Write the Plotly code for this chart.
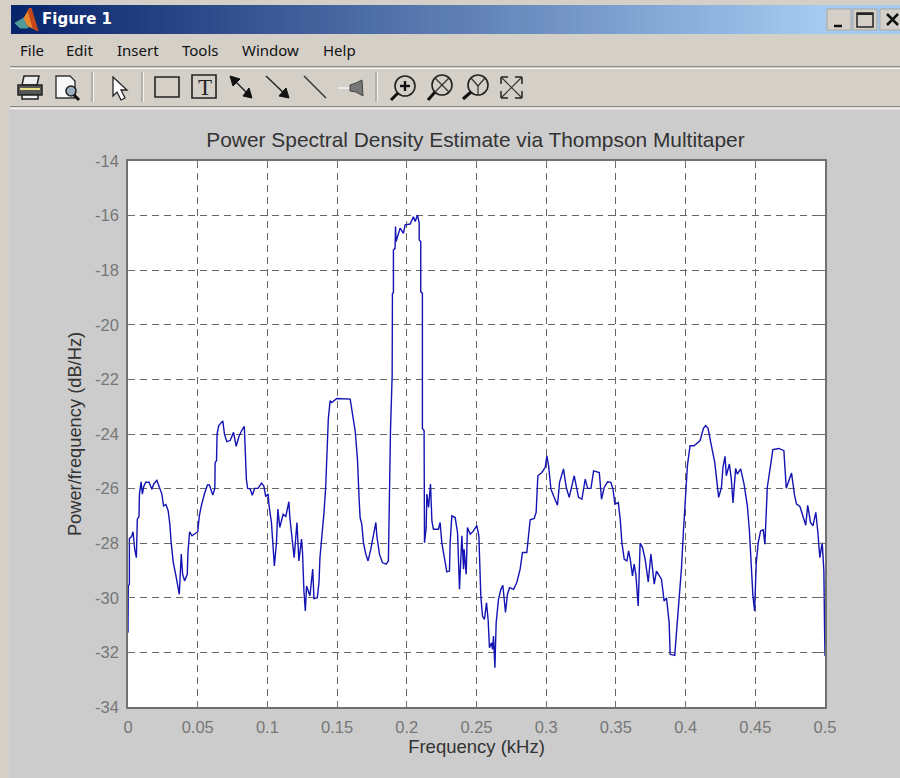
import plotly.graph_objects as go

# ---------- chart data ----------
freq_khz = [0,.0002,.001,.001,.0026,.0036,.0048,.006,.0067,.0079,.0082,.0094,.0103,.0113,.0127,.0151,.0171,.0185,.0207,.0228,.0243,.0255,.0272,.0288,.03,.031,.0325,.0344,.0368,.0382,.0392,.0406,.0425,.043,.0442,.0459,.05,.0512,.0526,.0548,.057,.0584,.0608,.0623,.0625,.0635,.0639,.0651,.068,.0692,.0709,.0733,.0757,.0776,.0796,.0815,.0834,.0839,.0849,.0858,.0877,.0892,.0909,.0933,.0957,.0974,.0988,.1005,.1012,.1029,.1036,.105,.1065,.1075,.1089,.1113,.1132,.1154,.1161,.1178,.1192,.1212,.1226,.1245,.1252,.1262,.1272,.1281,.1305,.1325,.1334,.1358,.137,.1377,.1392,.1406,.1418,.1425,.1437,.145,.1462,.1498,.1594,.163,.1634,.1646,.1658,.1665,.1677,.1689,.1706,.1722,.1742,.1766,.1778,.1785,.1804,.1825,.1852,.1868,.1873,.1883,.1895,.1897,.1904,.1904,.1916,.1919,.1923,.194,.1952,.1976,.1988,.2024,.2048,.206,.2077,.2089,.2089,.21,.21,.2112,.2112,.2124,.2127,.2139,.2144,.2156,.217,.218,.2191,.2227,.2239,.2251,.227,.2287,.2306,.2311,.2323,.2347,.2364,.2371,.2378,.2395,.2407,.2411,.2426,.2435,.2455,.2478,.2502,.2517,.2522,.2531,.2543,.2557,.2572,.2584,.2593,.2608,.2615,.2622,.2632,.2641,.2658,.2675,.2689,.2708,.2722,.2737,.2766,.2789,.2813,.283,.2861,.2873,.2885,.2914,.2928,.294,.2969,.2993,.3005,.3017,.3034,.3057,.3081,.3096,.3124,.3144,.3165,.3201,.3232,.3256,.328,.3297,.3321,.334,.3381,.3397,.3416,.344,.3464,.3479,.3493,.3517,.3531,.3543,.356,.3579,.3591,.3603,.3619,.3631,.3643,.366,.3674,.3691,.371,.3732,.3751,.3775,.3791,.3827,.3846,.3863,.3882,.3889,.3922,.3942,.3953,.397,.3984,.3996,.4013,.4032,.4061,.4104,.4128,.4144,.4161,.4185,.4209,.4228,.4237,.4257,.4268,.4283,.4292,.4314,.4328,.434,.4359,.4371,.4395,.4419,.4443,.4457,.4471,.4483,.4495,.4507,.4521,.4538,.4557,.4569,.4586,.461,.4626,.4669,.4705,.4722,.4734,.476,.4782,.4796,.482,.4848,.4862,.4876,.4896,.4914,.4934,.4949,.4963,.498,.4992,.4997,.5]
psd_db = [-31.28,-29.57,-29.5,-27.83,-27.76,-27.58,-28.22,-28.53,-27.12,-27.02,-26.2,-25.75,-26.2,-25.92,-25.77,-25.77,-26.02,-25.83,-25.7,-25.96,-26.2,-26.63,-26.58,-26.81,-27.3,-28,-28.71,-29.2,-29.87,-28.4,-29.14,-29.38,-29.14,-28.34,-27.58,-27.73,-27.58,-27,-26.63,-26.2,-25.87,-25.87,-26.24,-25.99,-25.04,-24.98,-24,-23.69,-23.52,-24,-24.28,-24.24,-23.94,-24.45,-24.09,-23.88,-23.72,-24.31,-25.65,-25.99,-26.02,-26.24,-25.99,-25.99,-25.8,-25.9,-26.29,-26.2,-26.63,-27.24,-27.85,-28.83,-27.98,-26.75,-27.42,-26.94,-27.02,-26.48,-27.06,-27.85,-28.53,-27.24,-28.65,-27.85,-28.34,-29.75,-30.48,-29.57,-29.93,-28.95,-30.03,-30,-29.44,-28.53,-27.73,-26.88,-25.96,-24.73,-23.45,-22.78,-22.85,-22.7,-22.72,-23.9,-24.18,-24.92,-26.39,-27.06,-27.3,-27.98,-28.4,-28.65,-28.22,-27.49,-27.24,-27.73,-28.4,-28.71,-28.77,-28.65,-26.45,-23.87,-21.85,-18.85,-18.83,-17.26,-17.2,-16.4,-16.95,-16.71,-16.46,-16.65,-16.34,-16.31,-16.04,-16.22,-15.98,-16.28,-16.89,-16.95,-18.79,-18.85,-23.8,-23.87,-27.98,-27.43,-26.2,-26.69,-25.83,-27.18,-27.49,-27.49,-27.24,-27.98,-28.59,-29.05,-29.02,-27.98,-27,-27.06,-27.61,-28.71,-29.69,-27.73,-28.95,-28.22,-29.14,-27.43,-27.67,-27.55,-27.36,-27.73,-28.71,-29.93,-30.67,-30.79,-30.18,-30.85,-31.83,-31.65,-31.89,-31.4,-32.56,-30.91,-30.05,-29.69,-29.54,-30.54,-29.87,-29.63,-29.69,-29.44,-28.95,-28.34,-28.34,-27.73,-27.14,-27.09,-26.87,-25.53,-25.41,-25.22,-24.8,-25.16,-26.02,-26.32,-26.61,-25.77,-25.28,-25.96,-26.32,-25.53,-26.32,-26.39,-25.65,-25.99,-25.99,-25.35,-25.41,-26.39,-25.96,-25.75,-25.77,-26.02,-26.57,-26.51,-27.12,-27.98,-28.59,-28.65,-28.28,-28.59,-29.2,-28.77,-29.14,-30.3,-28,-28.16,-28.59,-29.42,-28.4,-29.5,-29.02,-29.32,-30.12,-30,-30.91,-32.07,-32.11,-30.79,-30.06,-28.95,-27.61,-26.51,-25.16,-24.43,-24.43,-24.24,-23.79,-23.69,-23.79,-24.43,-25.04,-25.9,-26.32,-25.96,-25.22,-24.82,-25.53,-25.1,-25.65,-26.53,-25.26,-25.47,-25.28,-25.83,-26.63,-27.49,-28.95,-29.93,-30.48,-28.71,-27.98,-27.55,-27.51,-28.04,-25.96,-25.16,-24.57,-24.53,-24.61,-25.99,-25.83,-25.43,-26.26,-26.57,-26.65,-27.12,-27.34,-26.61,-27.24,-27.36,-26.87,-27.61,-28.53,-27.98,-29.02,-31.16,-32.13]

x_ticks = [0,.05,.1,.15,.2,.25,.3,.35,.4,.45,.5]
x_labels = ["0","0.05","0.1","0.15","0.2","0.25","0.3","0.35","0.4","0.45","0.5"]
y_ticks = [-14,-16,-18,-20,-22,-24,-26,-28,-30,-32,-34]
y_labels = ["-14","-16","-18","-20","-22","-24","-26","-28","-30","-32","-34"]

title_text = "Power Spectral Density Estimate via Thompson Multitaper"
x_title = "Frequency (kHz)"
y_title = "Power/frequency (dB/Hz)"
menu_items = [("File",18),("Edit",64),("Insert",115),("Tools",180),("Window",240),("Help",321)]

# ---------- page geometry ----------
W, H = 900, 778
L, R, T, B = 128, 825, 161, 707
TXT = "#777777"
GRID = "#666666"
AXIS = "#707070"
HELV = "Liberation Sans, Arial, sans-serif"
UI = "Noto Sans, Open Sans, sans-serif"

def px(x): return (x - L) / (R - L)
def py(y): return (B - y) / (B - T)

shapes, notes = [], []

def rect(x0, y0, x1, y1, fill, line=None, width=1, layer="below"):
    shapes.append(dict(type="rect", xref="paper", yref="paper", x0=px(x0), x1=px(x1), y0=py(y0), y1=py(y1),
                       fillcolor=fill, line=dict(color=line or fill, width=width if line else 0), layer=layer))

def seg(x0, y0, x1, y1, color="#222222", width=1.5):
    shapes.append(dict(type="line", xref="paper", yref="paper", x0=px(x0), x1=px(x1), y0=py(y0), y1=py(y1),
                       line=dict(color=color, width=width), layer="below"))

def poly(points, fill, line=None, width=1):
    d = "M " + " L ".join(f"{px(a):.5f},{py(b):.5f}" for a, b in points) + " Z"
    shapes.append(dict(type="path", xref="paper", yref="paper", path=d, fillcolor=fill,
                       line=dict(color=line or fill, width=width), layer="below"))

def circle(cx, cy, r, fill="rgba(0,0,0,0)", line="#222222", width=1.6):
    shapes.append(dict(type="circle", xref="paper", yref="paper", x0=px(cx-r), x1=px(cx+r), y0=py(cy+r), y1=py(cy-r),
                       fillcolor=fill, line=dict(color=line, width=width), layer="below"))

def label(x, y, text, size, color, font=UI, bold=False):
    notes.append(dict(xref="paper", yref="paper", x=px(x), y=py(y), text=f"<b>{text}</b>" if bold else text,
                      xanchor="left", yanchor="middle", showarrow=False,
                      font=dict(size=size, color=color, family=font)))

# window background, lighter outer frame, and the white axes area on top
rect(0, 0, W, H, "#d4d0c8")
rect(9, 108, W, H, "#cccccc")
rect(L, T, R, B, "#ffffff")

# title bar gradient
BAR_L, BAR_R, STEPS = 11, 826, 90
c0, c1 = (8, 36, 107), (166, 202, 240)
for i in range(STEPS):
    t = i / (STEPS - 1)
    col = "rgb(%d,%d,%d)" % tuple(round(a + (b - a) * t) for a, b in zip(c0, c1))
    rect(BAR_L + (BAR_R - BAR_L) * i / STEPS, 5, BAR_L + (BAR_R - BAR_L) * (i + 1) / STEPS + 1, 34, col)
rect(826, 5, W, 34, "#a6caf0")

# Matlab logo
poly([(15,23),(24,18),(28,28),(20,28)], "#4f9a9a")
poly([(24,18),(30,8),(37,30),(28,26)], "#e8862a")
poly([(28,10),(31,8),(38,31),(33,28)], "#c8471a")
label(40, 19, "Figure 1", 15, "#ffffff", "DejaVu Sans, Noto Sans", True)

# window buttons
for x0, x1 in [(827,851),(853,877),(880,902)]:
    rect(x0, 9, x1, 30, "#d4d0c8", "#a8a8a0", 1)
seg(834, 26, 842, 26, "#111111", 2.5)
rect(857, 13, 873, 27, "rgba(0,0,0,0)", "#222222", 1.5)
seg(857, 14, 873, 14, "#222222", 2)
seg(887, 14, 898, 25, "#111111", 2.5)
seg(898, 14, 887, 25, "#111111", 2.5)

# menu bar
for text, x in menu_items:
    label(x, 50, text, 15, "#111111")
seg(10, 66.5, W, 66.5, "#8a8a84", 1.2)
seg(10, 68.5, W, 68.5, "#f4f4f0", 1.2)
seg(10, 106.5, W, 106.5, "#8a8a84", 1.2)
seg(10, 108.5, W, 108.5, "#f4f4f0", 1.4)

# toolbar separators
for x in (92, 142, 376):
    seg(x, 72, x, 102, "#9a9a94", 1.2)
    seg(x + 1.5, 72, x + 1.5, 102, "#f4f4f0", 1)

# printer
poly([(24,76),(39,76),(37,85),(22,85)], "#eeeeee", "#222222", 1.5)
rect(18, 85, 42, 95, "#555555", "#222222", 1.5)
rect(22, 95, 38, 99, "#eeeeee", "#222222", 1.5)
seg(20, 89, 40, 89, "#e6e08a", 2)
# print preview
poly([(56,76),(70,76),(75,81),(75,98),(56,98)], "#f8f8f8", "#333333", 1.4)
circle(71, 91, 5, "#9ab0c0", "#222222", 1.6)
seg(74, 95, 79, 100, "#111111", 3)
# pointer
poly([(113,77),(113,96),(117,92),(121,100),(125,98),(121,90),(127,90)], "#ffffff", "#222222", 1.3)
# rectangle
rect(155, 77, 179, 97, "rgba(0,0,0,0)", "#222222", 1.6)
# text box
rect(192, 75, 216, 98, "rgba(0,0,0,0)", "#222222", 1.6)
label(196, 87, "T", 23, "#222222", "Liberation Serif, serif")
# double arrow
seg(231, 77, 251, 97)
poly([(230,76),(240,79),(233,86)], "#111111")
poly([(252,98),(243,96),(249,88)], "#111111")
# arrow
seg(266, 76, 288, 97)
poly([(289,98),(279,96),(286,88)], "#111111")
# line
seg(304, 76, 326, 98, "#333333", 1.4)
# pin
seg(338, 88, 350, 88, "#e8e8e8", 2)
poly([(350,85),(356,83),(362,80),(363,96),(356,92),(350,91)], "#777777", "#444444", 1)
# zoom in
circle(405, 86, 10)
seg(398, 93, 391, 100, "#111111", 3)
seg(400, 86, 410, 86, "#111111", 2.4)
seg(405, 81, 405, 91, "#111111", 2.4)
# glass with X
circle(442, 85, 10)
seg(435, 92, 428, 100, "#111111", 3)
seg(435, 78, 449, 92, "#333333", 1.2)
seg(449, 78, 435, 92, "#333333", 1.2)
# glass with Y
circle(478, 85, 10)
seg(471, 92, 463, 99, "#111111", 3)
seg(478, 86, 471, 78, "#333333", 1.2)
seg(478, 86, 485, 78, "#333333", 1.2)
seg(478, 86, 478, 95, "#333333", 1.2)
# fit to window
seg(502, 78, 521, 97, "#333333", 1.2)
seg(521, 78, 502, 97, "#333333", 1.2)
for a, b, c, d in [(501,77,508,77),(501,77,501,84),(522,77,515,77),(522,77,522,84),
                   (501,98,508,98),(501,98,501,91),(522,98,515,98),(522,98,522,91)]:
    seg(a, b, c, d, "#222222", 1.5)

# ---------- figure ----------
fig = go.Figure(go.Scatter(x=freq_khz, y=psd_db, mode="lines", line=dict(color="#1414b4", width=1.4), hoverinfo="skip"))

axis_common = dict(showline=True, linecolor=AXIS, linewidth=1.5, mirror="ticks", ticks="inside", ticklen=6,
                   tickcolor=AXIS, showgrid=True, gridcolor=GRID, griddash="7px,5px", gridwidth=1.2,
                   zeroline=False, tickfont=dict(family=HELV, size=16.5, color=TXT))

fig.update_layout(
    width=W, height=H, autosize=False, margin=dict(l=L, r=W - R, t=T, b=H - B),
    paper_bgcolor="#d4d0c8", plot_bgcolor="#ffffff", showlegend=False,
    font=dict(family=HELV, color=TXT),
    title=dict(text=title_text, x=475.5 / W, xanchor="center", y=1 - 140 / H, yanchor="middle",
               font=dict(family=HELV, size=20.9, color="#333333")),
    xaxis=dict(range=[0, 0.5], tickvals=x_ticks, ticktext=x_labels, ticklabelstandoff=4,
               title=dict(text=x_title, font=dict(family=HELV, size=18.5, color="#333333"), standoff=6), **axis_common),
    yaxis=dict(range=[-34, -14], tickvals=y_ticks, ticktext=y_labels, ticklabelstandoff=4,
               title=dict(text=y_title, font=dict(family=HELV, size=18.3, color="#333333"), standoff=9), **axis_common),
    shapes=shapes, annotations=notes,
)

fig.write_html("out.html", config=dict(displayModeBar=False),
               post_script="document.body.style.margin='0';document.body.style.overflow='hidden';")
